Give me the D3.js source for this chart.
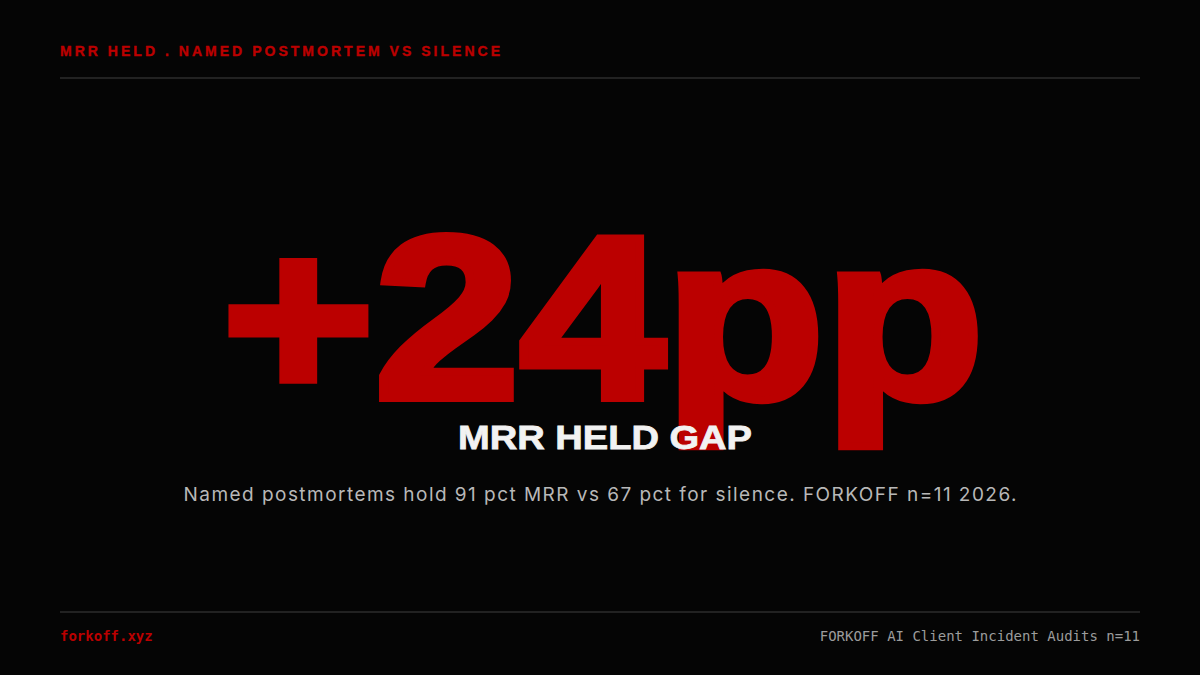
<!DOCTYPE html>
<html>
<head>
<meta charset="utf-8">
<script src="https://cdn.jsdelivr.net/npm/d3@7"></script>
<style>
  html, body { margin: 0; padding: 0; background: #050505; }
  svg { display: block; }
</style>
</head>
<body>
<svg id="chart" width="1200" height="675"></svg>
<script>
// MRR held, by response type (pct)
var groups = ['Named postmortem', 'Silence'];
var mrrHeld = [91, 67];
var sampleSize = [11];
var studyYear = [2026];
var headerText = ['MRR HELD . NAMED POSTMORTEM VS SILENCE'];
var footerLeft = ['forkoff.xyz'];
var footerRight = ['FORKOFF AI Client Incident Audits n=' + sampleSize[0]];

var W = 1200, H = 675;
var RED = '#bb0000';
var svg = d3.select('#chart');

svg.append('rect').attr('width', W).attr('height', H).attr('fill', '#050505');

// header + rules
svg.append('text')
    .attr('x', 60).attr('y', 56)
    .attr('font-family', 'Liberation Sans, Arial, sans-serif')
    .attr('font-weight', 700)
    .attr('font-size', 14)
    .attr('textLength', 440)
    .attr('lengthAdjust', 'spacing')
    .attr('fill', RED)
    .attr('stroke', RED)
    .attr('stroke-width', 0.4)
    .text(headerText[0]);

svg.selectAll('line.rule')
    .data([78, 612])
    .enter().append('line')
    .attr('class', 'rule')
    .attr('x1', 60).attr('x2', 1140)
    .attr('y1', function(d) { return d; })
    .attr('y2', function(d) { return d; })
    .attr('stroke', '#2c2c2c')
    .attr('stroke-width', 1.5);

// the big number: gap between the two groups
var gap = mrrHeld[0] - mrrHeld[1];
var x = d3.scaleLinear().domain([0, 1]).range([222, 984]);

svg.append('text')
    .attr('x', x(0)).attr('y', 398)
    .attr('font-family', 'Liberation Sans, Arial, sans-serif')
    .attr('font-weight', 700)
    .attr('font-size', 232)
    .attr('textLength', x(1) - x(0))
    .attr('lengthAdjust', 'spacingAndGlyphs')
    .attr('fill', RED)
    .attr('stroke', RED)
    .attr('stroke-width', 8)
    .attr('stroke-linejoin', 'miter')
    .text((gap > 0 ? '+' : '') + gap + 'pp');

svg.append('text')
    .attr('x', 458).attr('y', 449)
    .attr('font-family', 'Liberation Sans, Arial, sans-serif')
    .attr('font-weight', 700)
    .attr('font-size', 34)
    .attr('textLength', 294)
    .attr('lengthAdjust', 'spacingAndGlyphs')
    .attr('fill', '#f2f2f2')
    .attr('stroke', '#f2f2f2')
    .attr('stroke-width', 0.8)
    .text('MRR HELD GAP');

svg.append('text')
    .attr('x', 600).attr('y', 501)
    .attr('text-anchor', 'middle')
    .attr('font-family', 'Inter, sans-serif')
    .attr('font-size', 19)
    .attr('textLength', 833)
    .attr('fill', '#b8b8b8')
    .text('Named postmortems hold ' + mrrHeld[0] + ' pct MRR vs ' + mrrHeld[1] +
          ' pct for ' + groups[1].toLowerCase() + '. FORKOFF n=' + sampleSize[0] + ' ' + studyYear[0] + '.');

// footer
svg.append('text')
    .attr('x', 60).attr('y', 641)
    .attr('font-family', 'DejaVu Sans Mono, monospace')
    .attr('font-weight', 700)
    .attr('font-size', 14)
    .attr('fill', RED)
    .text(footerLeft[0]);

svg.append('text')
    .attr('x', 1140).attr('y', 641)
    .attr('text-anchor', 'end')
    .attr('font-family', 'DejaVu Sans Mono, monospace')
    .attr('font-size', 14)
    .attr('fill', '#9c9c9c')
    .text(footerRight[0]);
</script>
</body>
</html>
